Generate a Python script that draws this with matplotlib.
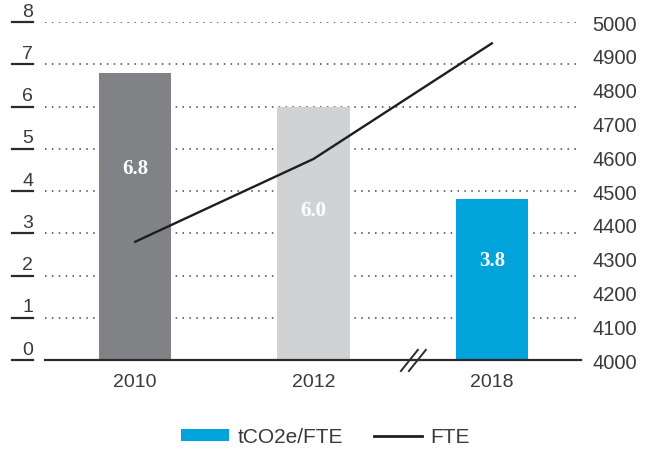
import matplotlib
matplotlib.use("Agg")
import matplotlib.pyplot as plt
import matplotlib.transforms as mtransforms
from matplotlib.lines import Line2D
from matplotlib.patches import Patch

plt.rcParams['font.family'] = ['Liberation Sans', 'DejaVu Sans']

# ---- data ----
years = ["2010", "2012", "2018"]
tco2e_per_fte = [6.8, 6.0, 3.8]
bar_labels = ["6.8", "6.0", "3.8"]
fte = [4350, 4595, 4937]
left_ticks = [0, 1, 2, 3, 4, 5, 6, 7, 8]
right_ticks = [4000, 4100, 4200, 4300, 4400, 4500, 4600, 4700, 4800, 4900, 5000]

# ---- styles ----
bar_colors = ["#818285", "#d1d2d4", "#00a3da"]
label_frac = [0.67, 0.59, 0.62]
text_color = "#3a3a3a"
dark = "#2b2b2b"

fig = plt.figure(figsize=(6.45, 4.52), dpi=100)
ax = fig.add_axes([0.0698, 0.2013, 0.9008 - 0.0698, 0.949 - 0.2013])
x = list(range(len(years)))

ax.set_xlim(-0.506, 2.5)
ax.set_ylim(0, 8)
ax.set_axisbelow(True)
for v in left_ticks[1:]:
    ax.axhline(v, color="#444444", linestyle=(0, (1, 3.5)), linewidth=1.1, zorder=0)

ax.bar(x, tco2e_per_fte, width=0.405, color=bar_colors, zorder=2)
for xi, h, lab, f in zip(x, tco2e_per_fte, bar_labels, label_frac):
    ax.text(xi, h * f, lab, ha="center", va="center", color="white",
            fontsize=15, fontweight="bold", family=["Liberation Serif", "DejaVu Serif"], zorder=3)

for s in ["top", "left", "right"]:
    ax.spines[s].set_visible(False)
ax.spines["bottom"].set_color(dark)
ax.spines["bottom"].set_linewidth(1.6)
ax.spines["bottom"].set_zorder(4)
ax.set_xticks(x)
ax.set_xticklabels(years, fontsize=14, color=text_color)
ax.tick_params(axis="x", length=0, pad=9)
ax.set_yticks([])

# custom left tick labels with underline
trans = ax.get_yaxis_transform()
for v in left_ticks:
    t = trans + mtransforms.ScaledTranslation(-12 / 100, 2.5 / 100, fig.dpi_scale_trans)
    ax.text(0, v, str(v), transform=t, ha="right", va="bottom", fontsize=14,
            color=text_color, clip_on=False)
    ln = Line2D([-33 / 536, -12 / 536], [v, v], transform=trans, color=dark,
                linewidth=1.6, clip_on=False)
    ax.add_line(ln)

# axis break marks
bt = ax.transData
for dx in [0, 8]:
    off = mtransforms.ScaledTranslation(dx / 100, 0, fig.dpi_scale_trans)
    ax.add_line(Line2D([1.49, 1.585], [-0.26, 0.24], transform=bt + off, color=dark,
                       linewidth=1.4, clip_on=False, zorder=5))

# right axis with FTE line
ax2 = ax.twinx()
ax2.set_ylim(4000, 5000)
ax2.set_yticks(right_ticks)
ax2.set_yticklabels([str(v) for v in right_ticks], fontsize=14.5, color=text_color)
ax2.tick_params(axis="y", length=0, pad=8)
for s in ["top", "left", "right", "bottom"]:
    ax2.spines[s].set_visible(False)
ax2.plot(x, fte, color="#1e1e1e", linewidth=1.7, zorder=5)

handles = [Patch(facecolor="#00a3da", edgecolor="none"),
           Line2D([0], [0], color="#1e1e1e", linewidth=2.0)]
leg = fig.legend(handles, ["tCO2e/FTE", "FTE"], loc="center", bbox_to_anchor=(0.505, 0.031),
                 ncol=2, frameon=False, fontsize=15, handlelength=2.3, handleheight=0.5,
                 handletextpad=0.4, columnspacing=1.5, labelcolor=text_color)

fig.savefig("out.png", dpi=100)
